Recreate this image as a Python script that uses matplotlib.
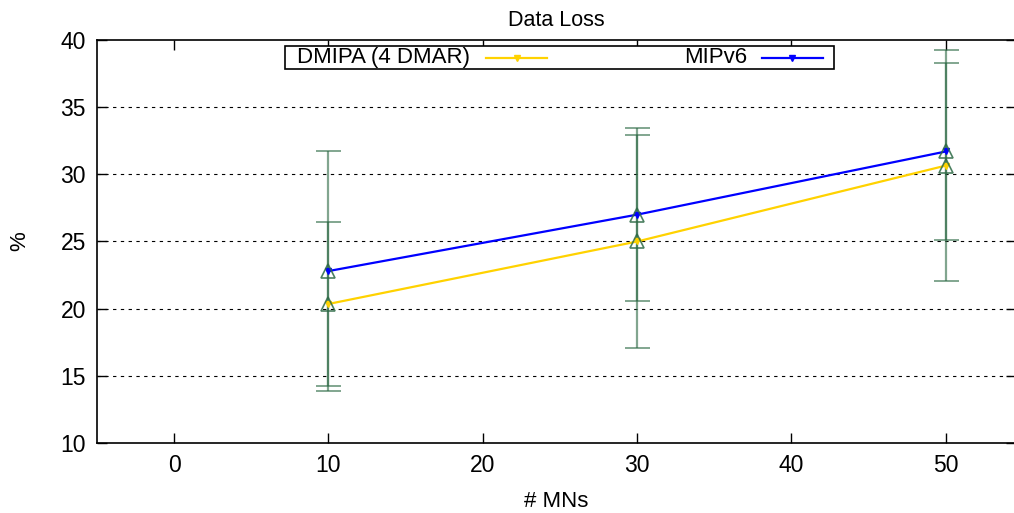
import matplotlib
matplotlib.use("Agg")
import matplotlib.pyplot as plt
from matplotlib.lines import Line2D
from matplotlib.patches import Rectangle

plt.rcParams['font.family'] = ['Liberation Sans', 'DejaVu Sans']

# Number of mobile nodes
mns = [10, 30, 50]

# Data loss (%) and error half-widths per protocol
dmipa_loss = [20.35, 25.0, 30.65]
dmipa_err = [6.1, 7.9, 8.57]
mipv6_loss = [22.8, 27.0, 31.7]
mipv6_err = [8.9, 6.45, 6.58]

series_names = ['DMIPA (4 DMAR)', 'MIPv6']

x_ticks = [0, 10, 20, 30, 40, 50]
y_ticks = [10, 15, 20, 25, 30, 35, 40]

gold = '#ffd200'
blue = '#0000ff'
err_green = '#2d6a45'

W, H = 1014, 513
fig = plt.figure(figsize=(W / 100, H / 100), dpi=100)
ax = fig.add_axes([97 / W, 1 - 443 / H, 1 - 97 / W + 0.002, (443 - 40) / H])


def px(x, y):
    """Pixel position (from top-left) to figure fraction."""
    return x / W, 1 - y / H


for yv in y_ticks[1:-1]:
    ax.axhline(yv, color='black', lw=0.8, ls=(0, (3, 4)), zorder=1)

# Error bars (translucent, so overlaps read darker)
for vals, errs in ((dmipa_loss, dmipa_err), (mipv6_loss, mipv6_err)):
    ax.errorbar(mns, vals, yerr=errs, fmt='none', ecolor=err_green,
                elinewidth=1.6, capsize=9, capthick=1.4, alpha=0.6, zorder=3)

ax.plot(mns, dmipa_loss, color=gold, lw=1.6, marker='v', ms=5, zorder=4)
ax.plot(mns, mipv6_loss, color=blue, lw=1.6, marker='v', ms=5, zorder=4)

# Open triangles at the measured points
for vals in (dmipa_loss, mipv6_loss):
    ax.plot(mns, vals, ls='none', marker='^', ms=10, mfc='none',
            mec=err_green, mew=1.2, alpha=0.85, zorder=5)

ax.set_xlim(-5, 54.55)
ax.set_ylim(10, 40)
ax.set_xticks(x_ticks)
ax.set_yticks(y_ticks)
ax.tick_params(axis='both', direction='in', labelsize=16.5, length=7, width=1,
               top=True, right=True, pad=8)
for sp in ax.spines.values():
    sp.set_linewidth(1.2)

ax.set_title('Data Loss', fontsize=15.5, pad=10)
ax.set_xlabel('# MNs', fontsize=16, labelpad=10)
ax.set_ylabel('%', fontsize=16, labelpad=22)

# Key box with label-then-sample entries
bx0, by0 = px(285, 69)
bx1, by1 = px(834, 46)
fig.add_artist(Rectangle((bx0, by0), bx1 - bx0, by1 - by0, transform=fig.transFigure,
                         facecolor='white', edgecolor='black', lw=1.2, zorder=10))
ky = 57.5
entries = [(series_names[0], gold, 297, 486, 547),
           (series_names[1], blue, 684, 762, 823)]
for name, col, tx, lx0, lx1 in entries:
    x0, yy = px(tx, ky)
    fig.text(x0, yy, name, fontsize=16, ha='left', va='center', zorder=11)
    a, _ = px(lx0, ky)
    b, _ = px(lx1, ky)
    fig.add_artist(Line2D([a, b], [yy, yy], color=col, lw=1.6,
                          transform=fig.transFigure, zorder=11))
    fig.add_artist(Line2D([(a + b) / 2], [yy], color=col, marker='v', ms=5,
                          transform=fig.transFigure, zorder=11))

fig.savefig('out.png', dpi=100)
